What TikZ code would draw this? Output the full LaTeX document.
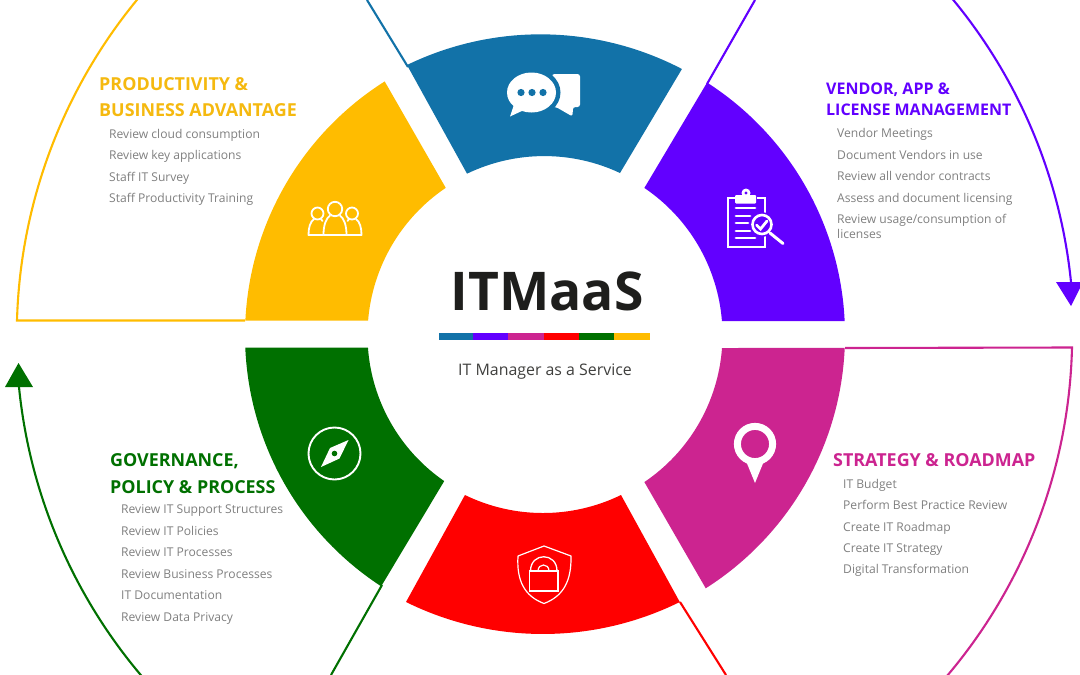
\documentclass[tikz,border=0pt]{standalone}
\usepackage{fontspec}
\setmainfont{Open Sans}
\definecolor{cblue}{HTML}{1272A8}
\definecolor{cpurple}{HTML}{6200FF}
\definecolor{cmag}{HTML}{CC2490}
\definecolor{cred}{HTML}{FF0000}
\definecolor{cgreen}{HTML}{007000}
\definecolor{cyellow}{HTML}{FFBC00}
\definecolor{cytext}{HTML}{F5B90F}
\definecolor{cgray}{HTML}{808080}
\definecolor{cdark}{HTML}{1E1E1C}
\newcommand{\ringseg}[5]{\fill[#1] ([shift={(545,-335)}]#2:300) arc[start angle=#2,end angle=#3,radius=300] -- ([shift={(545,-335)}]#4:177.5) arc[start angle=#4,end angle=#5,radius=177.5] -- cycle;}
\tikzset{
  titletext/.style={anchor=base west,inner sep=0pt,font=\fontsize{17.9}{20}\selectfont\bfseries},
  titlesmall/.style={anchor=base west,inner sep=0pt,font=\fontsize{16}{20}\selectfont\bfseries},
  itemtext/.style={anchor=base west,inner sep=0pt,text=cgray,font=\fontsize{12.1}{15}\selectfont},
  guide/.style={line width=2.1pt,line join=miter},
  iconline/.style={draw=white,line width=1.8pt,line join=round,line cap=round},
}
\begin{document}
\begin{tikzpicture}[x=1pt,y=1pt]
\useasboundingbox (0,-675) rectangle (1080,0);
\clip (0,-675) rectangle (1080,0);
\fill[white] (0,-675) rectangle (1080,0);
% guides
\draw[guide,cyellow] (245,-320.5) -- (17,-320.5) arc[start angle=178.4,end angle=140,radius=528];
\draw[guide,cblue] (367,0) -- (408,-67);
\draw[guide,cpurple] (707,-84) -- (755,0);
\draw[guide,cpurple] (1071,-282) arc[start angle=5.8,end angle=41,radius=527];
\fill[cpurple] (1056,-282) -- (1083,-282) -- (1071,-306) -- cycle;
\draw[guide,cmag] (845,-348) -- (1072,-347.5) arc[start angle=-1.36,end angle=-42,radius=527];
\draw[guide,cred] (680,-602) -- (726,-675);
\draw[guide,cgreen] (382,-585) -- (331,-675);
\draw[guide,cgreen] (19,-387) arc[start angle=185.67,end angle=221,radius=527];
\fill[cgreen] (5,-387) -- (33,-387) -- (18.5,-363) -- cycle;
% ring
\fill[cblue] (407,-65) arc[start angle=115.87,end angle=62.47,radius=306] -- (620,-173) arc[start angle=64.8,end angle=115.7,radius=178] -- cycle;
\ringseg{cpurple}{2.67}{57.3}{55.95}{4.52}
\ringseg{cyellow}{177.23}{122.3}{124}{175.32}
\ringseg{cgreen}{182.39}{236.9}{235.4}{184.04}
\ringseg{cmag}{-2.48}{-57.6}{-55.95}{-4.2}
\fill[cred] (406,-602) arc[start angle=243.7,end angle=296.3,radius=309] -- (621,-495) arc[start angle=296,end angle=244,radius=178] -- cycle;
% chat icon
\fill[white,rounded corners=2.5pt] (552,-74) -- (580,-74) -- (580,-107) -- (573,-107) -- (572.5,-116.5) -- (556,-107) -- (552,-107) -- cycle;
\fill[cblue] (531.5,-92.5) ellipse[x radius=29,y radius=24.5];
\fill[white] (531.5,-92.5) ellipse[x radius=24.5,y radius=20];
\fill[white] (510,-116.5) -- (514.5,-103) -- (524,-110) -- cycle;
\foreach \dx in {521,532,543} \fill[cblue] (\dx,-92.5) circle[radius=3.6];
% clipboard icon
\draw[white,line width=2.6pt] (735,-198) -- (728,-198) -- (728,-247) -- (765,-247) -- (765,-198) -- (757,-198);
\fill[white,rounded corners=1pt] (735,-203.5) rectangle (756,-195);
\fill[white] (746,-193) circle[radius=4.5];
\fill[cpurple] (746,-193) circle[radius=1.7];
\foreach \yy/\xe in {208/755,216/750,223/748,231/750,238/755}
  \draw[white,line width=2.8pt,line cap=round] (736,-\yy) -- (\xe,-\yy);
\fill[cpurple] (762,-224.5) circle[radius=12.5];
\draw[white,line width=2.6pt] (762,-224.5) circle[radius=9.5];
\draw[white,line width=2.8pt,line cap=round] (756.5,-225) -- (760.5,-229) -- (767,-221);
\draw[white,line width=3pt,line cap=round] (770,-233) -- (783,-243.5);
% people icon
\draw[iconline] (335,-209) circle[radius=7.2];
\draw[iconline] (323.5,-235) .. controls (323.5,-225) and (326,-218.5) .. (330,-215.5)
  (340,-215.5) .. controls (344,-218.5) and (346.5,-225) .. (346.5,-235) -- (323.5,-235);
\draw[iconline] (317.5,-213.5) circle[radius=6];
\draw[iconline] (323,-235) -- (308.5,-235) .. controls (308.5,-228) and (310,-222) .. (314,-219) (321,-219) -- (322.5,-221);
\draw[iconline] (352,-213.5) circle[radius=6];
\draw[iconline] (347,-235) -- (361.5,-235) .. controls (361.5,-228) and (360,-222) .. (356,-219) (349,-219) -- (347.5,-221);
% compass icon
\draw[white,line width=1.9pt] (334.5,-453.5) circle[radius=26];
\fill[white] (348.5,-440) -- (339.5,-458.5) -- (321,-467) -- (330,-448) -- cycle;
\fill[cgreen] (334.5,-453.5) circle[radius=2.8];
% shield icon
\draw[white,line width=1.2pt,line join=round] (544,-546) -- (571,-556) .. controls (571.5,-580) and (564,-596) .. (544,-603.5) .. controls (524,-596) and (516.5,-580) .. (518,-556) -- cycle;
\draw[white,line width=1.3pt] (529.5,-571) rectangle (558,-591);
\draw[white,line width=1.3pt] (530.5,-571) .. controls (530.5,-552) and (557,-552) .. (557,-571);
\draw[white,line width=1.2pt] (538,-571) .. controls (538,-563) and (549,-563) .. (549,-571) -- cycle;
% pin icon
\fill[white] (746,-461) -- (755,-483) -- (764,-461) -- cycle;
\draw[white,line width=7pt] (755,-444) circle[radius=17.6];
% centre
\node[anchor=base,inner sep=0pt,text=cdark,font=\fontsize{53.4}{60}\selectfont\bfseries] (logo) at (547,-310) {ITMaaS};
\fill[cblue] (439,-333) rectangle (473,-340);
\fill[cpurple] (473,-333) rectangle (508,-340);
\fill[cmag] (508,-333) rectangle (544,-340);
\fill[cred] (544,-333) rectangle (579,-340);
\fill[cgreen] (579,-333) rectangle (614,-340);
\fill[cyellow] (614,-333) rectangle (650,-340);
\node[anchor=base,inner sep=0pt,text=cdark!85,font=\fontsize{15.9}{18}\selectfont] (sub) at (545,-375) {IT Manager as a Service};
% yellow text
\node[titletext,text=cytext] (y1) at (99,-90) {PRODUCTIVITY \&};
\node[titletext,text=cytext] (y2) at (99,-116.5) {BUSINESS ADVANTAGE};
\node[itemtext] (ya) at (109,-138.5) {Review cloud consumption};
\node[itemtext] (yb) at (109,-159.5) {Review key applications};
\node[itemtext] (yc) at (109,-181.5) {Staff IT Survey};
\node[itemtext] (yd) at (109,-202.5) {Staff Productivity Training};
% purple text
\node[titlesmall,text=cpurple] (p1) at (826,-94) {VENDOR, APP \&};
\node[titlesmall,text=cpurple] (p2) at (826,-115) {LICENSE MANAGEMENT};
\node[itemtext] (pa) at (837,-137) {Vendor Meetings};
\node[itemtext] (pb) at (837,-159) {Document Vendors in use};
\node[itemtext] (pc) at (837,-180) {Review all vendor contracts};
\node[itemtext] (pd) at (837,-202) {Assess and document licensing};
\node[itemtext] (pe) at (837,-223) {Review usage/consumption of};
\node[itemtext] (pf) at (837,-238.5) {licenses};
% green text
\node[titletext,text=cgreen] (g1) at (110,-466.5) {GOVERNANCE,};
\node[titletext,text=cgreen] (g2) at (110,-493) {POLICY \& PROCESS};
\node[itemtext] (ga) at (121,-513.5) {Review IT Support Structures};
\node[itemtext] (gb) at (121,-535.5) {Review IT Policies};
\node[itemtext] (gc) at (121,-556.5) {Review IT Processes};
\node[itemtext] (gd) at (121,-578.5) {Review Business Processes};
\node[itemtext] (ge) at (121,-599.5) {IT Documentation};
\node[itemtext] (gf) at (121,-621.5) {Review Data Privacy};
% magenta text
\node[titletext,text=cmag] (m1) at (833,-466) {STRATEGY \& ROADMAP};
\node[itemtext] (ma) at (843,-488) {IT Budget};
\node[itemtext] (mb) at (843,-509) {Perform Best Practice Review};
\node[itemtext] (mc) at (843,-531) {Create IT Roadmap};
\node[itemtext] (md) at (843,-552) {Create IT Strategy};
\node[itemtext] (me) at (843,-573) {Digital Transformation};
\end{tikzpicture}
\end{document}
